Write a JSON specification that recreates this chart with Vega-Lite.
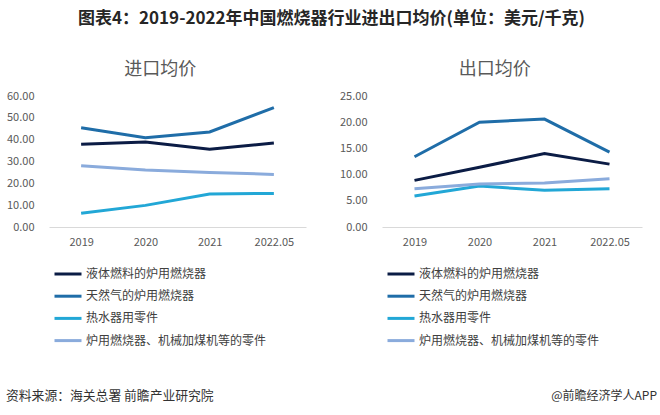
{
  "$schema": "https://vega.github.io/schema/vega-lite/v6.json",
  "padding": {"left": 6, "top": 10, "right": 0, "bottom": 0},
  "background": "white",
  "config": {
    "font": "Noto Sans CJK SC",
    "view": {"stroke": null},
    "axis": {"labelFont": "Noto Sans CJK SC", "labelFontSize": 11, "labelColor": "#595959", "title": null, "grid": false, "ticks": false},
    "legend": {"labelFont": "Noto Sans CJK SC", "labelFontSize": 12, "labelColor": "#404040", "labelLimit": 0, "symbolType": "stroke", "symbolStrokeWidth": 3, "symbolSize": 729, "labelOffset": 3, "rowPadding": 1.2, "padding": 0, "title": null, "orient": "none", "legendX": 4, "legendY": 163, "direction": "vertical"}
  },
  "title": {"text": "图表4：2019-2022年中国燃烧器行业进出口均价(单位：美元/千克)", "fontSize": 17, "fontWeight": "bold", "color": "#262626", "anchor": "middle", "offset": 33},
  "datasets": {
    "prices": [
      {"panel": "进口", "series": "液体燃料的炉用燃烧器", "year": "2019", "value": 37.9},
      {"panel": "进口", "series": "液体燃料的炉用燃烧器", "year": "2020", "value": 38.9},
      {"panel": "进口", "series": "液体燃料的炉用燃烧器", "year": "2021", "value": 35.6},
      {"panel": "进口", "series": "液体燃料的炉用燃烧器", "year": "2022.05", "value": 38.5},
      {"panel": "进口", "series": "天然气的炉用燃烧器", "year": "2019", "value": 45.5},
      {"panel": "进口", "series": "天然气的炉用燃烧器", "year": "2020", "value": 40.9},
      {"panel": "进口", "series": "天然气的炉用燃烧器", "year": "2021", "value": 43.5},
      {"panel": "进口", "series": "天然气的炉用燃烧器", "year": "2022.05", "value": 54.7},
      {"panel": "进口", "series": "热水器用零件", "year": "2019", "value": 6.3},
      {"panel": "进口", "series": "热水器用零件", "year": "2020", "value": 9.9},
      {"panel": "进口", "series": "热水器用零件", "year": "2021", "value": 15.1},
      {"panel": "进口", "series": "热水器用零件", "year": "2022.05", "value": 15.4},
      {"panel": "进口", "series": "炉用燃烧器、机械加煤机等的零件", "year": "2019", "value": 28.1},
      {"panel": "进口", "series": "炉用燃烧器、机械加煤机等的零件", "year": "2020", "value": 26.1},
      {"panel": "进口", "series": "炉用燃烧器、机械加煤机等的零件", "year": "2021", "value": 25.0},
      {"panel": "进口", "series": "炉用燃烧器、机械加煤机等的零件", "year": "2022.05", "value": 24.1},
      {"panel": "出口", "series": "液体燃料的炉用燃烧器", "year": "2019", "value": 8.9},
      {"panel": "出口", "series": "液体燃料的炉用燃烧器", "year": "2020", "value": 11.4},
      {"panel": "出口", "series": "液体燃料的炉用燃烧器", "year": "2021", "value": 14.0},
      {"panel": "出口", "series": "液体燃料的炉用燃烧器", "year": "2022.05", "value": 12.0},
      {"panel": "出口", "series": "天然气的炉用燃烧器", "year": "2019", "value": 13.4},
      {"panel": "出口", "series": "天然气的炉用燃烧器", "year": "2020", "value": 20.0},
      {"panel": "出口", "series": "天然气的炉用燃烧器", "year": "2021", "value": 20.6},
      {"panel": "出口", "series": "天然气的炉用燃烧器", "year": "2022.05", "value": 14.3},
      {"panel": "出口", "series": "热水器用零件", "year": "2019", "value": 5.9},
      {"panel": "出口", "series": "热水器用零件", "year": "2020", "value": 7.8},
      {"panel": "出口", "series": "热水器用零件", "year": "2021", "value": 7.0},
      {"panel": "出口", "series": "热水器用零件", "year": "2022.05", "value": 7.3},
      {"panel": "出口", "series": "炉用燃烧器、机械加煤机等的零件", "year": "2019", "value": 7.3},
      {"panel": "出口", "series": "炉用燃烧器、机械加煤机等的零件", "year": "2020", "value": 8.2},
      {"panel": "出口", "series": "炉用燃烧器、机械加煤机等的零件", "year": "2021", "value": 8.4},
      {"panel": "出口", "series": "炉用燃烧器、机械加煤机等的零件", "year": "2022.05", "value": 9.2}
    ]
  },
  "spacing": 41,
  "vconcat": [
    {
      "spacing": 33,
      "resolve": {"scale": {"color": "independent"}, "legend": {"color": "independent"}},
      "hconcat": [
        {
          "width": 257, "height": 131,
          "data": {"name": "prices"},
          "title": {"text": "进口均价", "fontSize": 18, "fontWeight": "normal", "color": "#595959", "offset": 11, "frame": "bounds", "anchor": "middle", "dx": 4},
          "transform": [{"filter": "datum.panel === '进口'"}],
          "mark": {"type": "line", "strokeWidth": 3},
          "encoding": {
            "x": {"field": "year", "type": "ordinal", "sort": null, "axis": {"labelAngle": 0, "domainColor": "#d9d9d9", "labelPadding": 9}},
            "y": {"field": "value", "type": "quantitative", "scale": {"domain": [0, 60]}, "axis": {"values": [0, 10, 20, 30, 40, 50, 60], "format": ".2f", "domain": false, "labelPadding": 15}},
            "color": {"field": "series", "type": "nominal", "sort": null,
              "scale": {"domain": ["液体燃料的炉用燃烧器", "天然气的炉用燃烧器", "热水器用零件", "炉用燃烧器、机械加煤机等的零件"], "range": ["#0b1c45", "#1f6da8", "#22a7d6", "#8aabdc"]}}
          }
        },
        {
          "width": 260, "height": 131,
          "data": {"name": "prices"},
          "title": {"text": "出口均价", "fontSize": 18, "fontWeight": "normal", "color": "#595959", "offset": 11, "frame": "bounds", "anchor": "middle", "dx": 4},
          "transform": [{"filter": "datum.panel === '出口'"}],
          "mark": {"type": "line", "strokeWidth": 3},
          "encoding": {
            "x": {"field": "year", "type": "ordinal", "sort": null, "axis": {"labelAngle": 0, "domainColor": "#d9d9d9", "labelPadding": 9}},
            "y": {"field": "value", "type": "quantitative", "scale": {"domain": [0, 25]}, "axis": {"values": [0, 5, 10, 15, 20, 25], "format": ".2f", "domain": false, "labelPadding": 15}},
            "color": {"field": "series", "type": "nominal", "sort": null,
              "scale": {"domain": ["液体燃料的炉用燃烧器", "天然气的炉用燃烧器", "热水器用零件", "炉用燃烧器、机械加煤机等的零件"], "range": ["#0b1c45", "#1f6da8", "#22a7d6", "#8aabdc"]}}
          }
        }
      ]
    },
    {
      "width": 608, "height": 16,
      "data": {"values": [{"side": "L", "label": "资料来源：海关总署 前瞻产业研究院"}, {"side": "R", "label": "@前瞻经济学人APP"}]},
      "encoding": {
        "x": {"field": "side", "type": "nominal", "scale": {"type": "point", "padding": 0, "domain": ["L", "R"]}, "axis": null},
        "text": {"field": "label"}
      },
      "layer": [
        {"transform": [{"filter": "datum.side === 'L'"}], "mark": {"type": "text", "align": "left", "dx": -43, "fontSize": 12.8, "color": "#333333"}},
        {"transform": [{"filter": "datum.side === 'R'"}], "mark": {"type": "text", "align": "right", "fontSize": 12, "color": "#333333"}}
      ]
    }
  ]
}
